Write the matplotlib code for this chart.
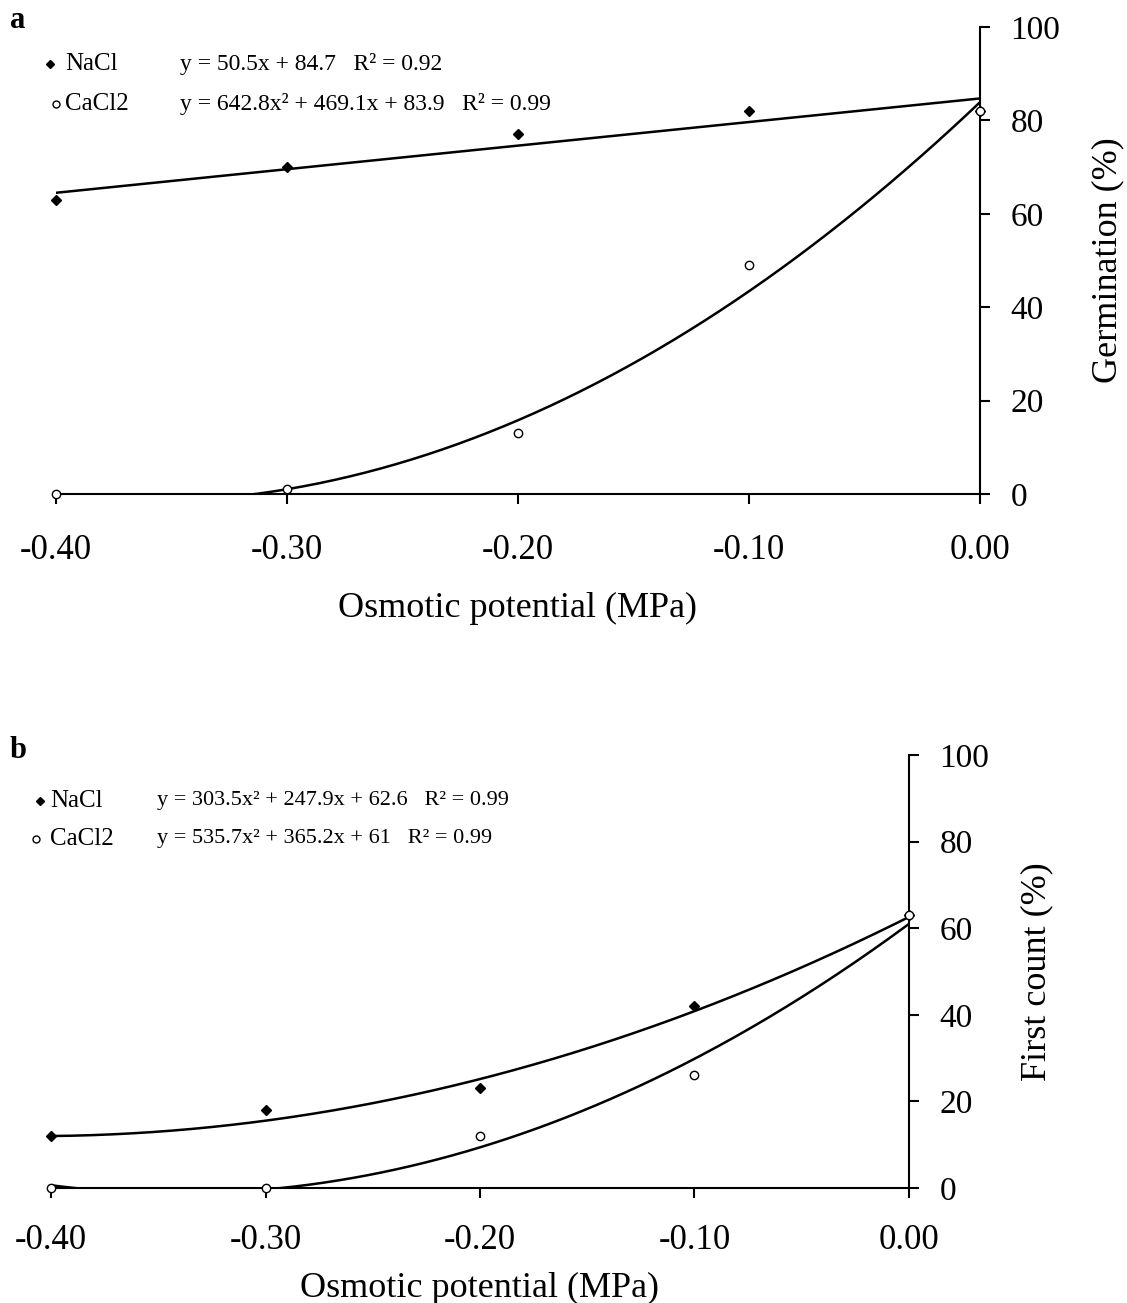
import numpy as np
import matplotlib.pyplot as plt
from matplotlib.lines import Line2D

plt.rcParams['font.family'] = ['Liberation Serif', 'DejaVu Serif']

# osmotic potential levels (MPa)
potential = [-0.40, -0.30, -0.20, -0.10, 0.00]

# a: germination (%)
germ_nacl = [63, 70, 77, 82, 82]
germ_cacl2 = [0, 1, 13, 49, 82]
# b: first count (%)
first_nacl = [12, 18, 23, 42, 63]
first_cacl2 = [0, 0, 12, 26, 63]

# fitted coefficients (highest power first)
fit_a_nacl = [50.5, 84.7]
fit_a_cacl2 = [642.8, 469.1, 83.9]
fit_b_nacl = [303.5, 247.9, 62.6]
fit_b_cacl2 = [535.7, 365.2, 61.0]

eq_a = ["y = 50.5x + 84.7   R² = 0.92",
        "y = 642.8x² + 469.1x + 83.9   R² = 0.99"]
eq_b = ["y = 303.5x² + 247.9x + 62.6   R² = 0.99",
        "y = 535.7x² + 365.2x + 61   R² = 0.99"]

xticks = [-0.40, -0.30, -0.20, -0.10, 0.00]
yticks = [0, 20, 40, 60, 80, 100]

W, H = 1127, 1303
fig = plt.figure(figsize=(W / 100, H / 100), dpi=100)


def px_rect(x0, x1, y0, y1):
    # y0 = pixel row of y=0, y1 = pixel row of y=100
    return [x0 / W, 1 - y0 / H, (x1 - x0) / W, (y0 - y1) / H]


def setup_axes(ax, ylabel, xpad, xlabelpad):
    ax.set_xlim(-0.40, 0.00)
    ax.set_ylim(0, 100)
    ax.spines['top'].set_visible(False)
    ax.spines['left'].set_visible(False)
    ax.spines['right'].set_position(('data', 0.0))
    for s in ('right', 'bottom'):
        ax.spines[s].set_linewidth(1.5)
    ax.yaxis.tick_right()
    ax.yaxis.set_label_position('right')
    ax.set_xticks(xticks)
    ax.set_xticklabels([f"{v:.2f}" for v in xticks])
    ax.set_yticks(yticks)
    ax.tick_params(axis='x', direction='out', length=7, width=1.5, pad=xpad, labelsize=25)
    ax.tick_params(axis='y', direction='out', length=7, width=1.5, pad=15, labelsize=24)
    ax.set_xlabel("Osmotic potential (MPa)", fontsize=26, labelpad=xlabelpad)
    ax.set_ylabel(ylabel, fontsize=26, labelpad=22)


def draw_panel(ax, nacl, cacl2, fit_nacl, fit_cacl2):
    xs = np.linspace(-0.40, 0.0, 300)
    ax.plot(xs, np.polyval(fit_nacl, xs), color='black', lw=1.8, zorder=3)
    ax.plot(xs, np.polyval(fit_cacl2, xs), color='black', lw=1.8, zorder=3)
    ax.plot(potential, nacl, ls='none', marker='D', ms=5, color='black',
            clip_on=False, zorder=5)
    ax.plot(potential, cacl2, ls='none', marker='o', ms=6, mfc='white',
            mec='black', mew=1, clip_on=False, zorder=6)


def draw_key(y_rows, marker_x, text_x, eq_x, eqs, eq_size):
    handles = [dict(marker='D', ms=4, mfc='black', mec='black'),
               dict(marker='o', ms=5, mfc='white', mec='black', mew=1)]
    names = ["NaCl", "CaCl2"]
    for yrow, mx, h, name, eq in zip(y_rows, marker_x, handles, names, eqs):
        fig.add_artist(Line2D([mx / W], [1 - yrow / H], ls='none',
                              transform=fig.transFigure, **h))
        fig.text(text_x / W, 1 - yrow / H, name, fontsize=18, va='center', ha='left')
        fig.text(eq_x / W, 1 - yrow / H, eq, fontsize=eq_size, va='center', ha='left')


ax_a = fig.add_axes(px_rect(56, 980, 494, 27))
draw_panel(ax_a, germ_nacl, germ_cacl2, fit_a_nacl, fit_a_cacl2)
setup_axes(ax_a, "Germination (%)", 22, 18)

ax_b = fig.add_axes(px_rect(51, 909, 1188, 755))
draw_panel(ax_b, first_nacl, first_cacl2, fit_b_nacl, fit_b_cacl2)
setup_axes(ax_b, "First count (%)", 19, 11)

draw_key([64, 104], [50, 56], 65, 180, eq_a, 17)
draw_key([801, 839], [40, 36], 50, 157, eq_b, 16)

fig.text(10 / W, 1 - 20 / H, "a", fontsize=22, fontweight='bold', va='center')
fig.text(10 / W, 1 - 750 / H, "b", fontsize=22, fontweight='bold', va='center')

fig.savefig("out.png", dpi=100)
